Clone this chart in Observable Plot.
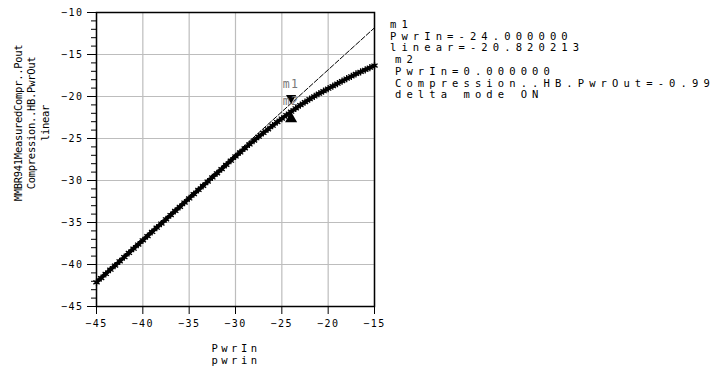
<!DOCTYPE html>
<html><head><meta charset="utf-8">
<script src="https://cdn.jsdelivr.net/npm/d3@7"></script>
<script src="https://cdn.jsdelivr.net/npm/@observablehq/plot@0.6"></script>
<style>
html,body{margin:0;padding:0;background:#fff;}
#chart{position:relative;width:716px;height:370px;overflow:hidden;}
svg{display:block;}
</style></head><body><div id="chart"></div>
<script>
// Swept input power (dBm)
const pwrIn = [-45, -44.5, -44, -43.5, -43, -42.5, -42, -41.5, -41, -40.5,
  -40, -39.5, -39, -38.5, -38, -37.5, -37, -36.5, -36, -35.5,
  -35, -34.5, -34, -33.5, -33, -32.5, -32, -31.5, -31, -30.5,
  -30, -29.5, -29, -28.5, -28, -27.5, -27, -26.5, -26, -25.5,
  -25, -24.5, -24, -23.5, -23, -22.5, -22, -21.5, -21, -20.5,
  -20, -19.5, -19, -18.5, -18, -17.5, -17, -16.5, -16, -15.5, -15];
// Compression..HB.PwrOut (measured output power, dBm)
const compression = [-42.12, -41.62, -41.12, -40.62, -40.12, -39.62, -39.12, -38.62, -38.12, -37.62,
  -37.12, -36.62, -36.12, -35.62, -35.12, -34.62, -34.12, -33.63, -33.13, -32.63,
  -32.13, -31.63, -31.13, -30.63, -30.13, -29.63, -29.14, -28.64, -28.14, -27.64,
  -27.14, -26.66, -26.17, -25.70, -25.24, -24.79, -24.34, -23.90, -23.47, -23.04,
  -22.62, -22.21, -21.81, -21.41, -21.02, -20.67, -20.32, -19.99, -19.67, -19.37,
  -19.07, -18.77, -18.47, -18.17, -17.87, -17.60, -17.32, -17.07, -16.82, -16.57, -16.32];
// Ideal linear extrapolation
const linearPwrIn = [-45, -15];
const linearOut = [-41.82, -11.82];
// Markers
const markerNames = ["m1", "m2"];
const markerPwrIn = [-24, -24];
const markerOut = [-20.820213, -21.81];
// Axis ticks
const xTicks = [-45, -40, -35, -30, -25, -20, -15];
const yTicks = [-45, -40, -35, -30, -25, -20, -15, -10];
const yMinorTicks = [-44,-43,-42,-41,-39,-38,-37,-36,-34,-33,-32,-31,-29,-28,-27,-26,-24,-23,-22,-21,-19,-18,-17,-16,-14,-13,-12,-11];
// Texts
const yTitleLines = ["MMBR941MeasuredCompr..Pout", "Compression..HB.PwrOut", "linear"];
const xTitleLines = ["PwrIn", "pwrin"];
const annotationM1 = ["m1", "PwrIn=-24.000000", "linear=-20.820213"];
const annotationM2 = ["m2", "PwrIn=0.000000", "Compression..HB.PwrOut=-0.99", "delta mode ON"];

const curve = pwrIn.map((x, i) => ({x, y: compression[i]}));
const linear = linearPwrIn.map((x, i) => ({x, y: linearOut[i]}));
const markers = markerNames.map((name, i) => ({name, x: markerPwrIn[i], y: markerOut[i]}));
const m1 = markers.filter(d => d.name === "m1");
const m2 = markers.filter(d => d.name === "m2");

const mono = "'DejaVu Sans Mono', 'Liberation Mono', monospace";

const plot = Plot.plot({
  width: 716, height: 370,
  marginLeft: 96, marginRight: 342, marginTop: 12, marginBottom: 64,
  style: {fontFamily: mono, fontSize: "10px", background: "#fff", color: "#000", overflow: "visible"},
  x: {domain: [-45, -15]},
  y: {domain: [-45, -10]},
  marks: [
    Plot.gridX(xTicks, {stroke: "#bdbdbd", strokeOpacity: 1, strokeWidth: 1.2}),
    Plot.gridY(yTicks, {stroke: "#bdbdbd", strokeOpacity: 1, strokeWidth: 1.2}),
    Plot.line(linear, {x: "x", y: "y", stroke: "#000", strokeWidth: 1, strokeDasharray: "5,2"}),
    Plot.line(curve, {x: "x", y: "y", stroke: "#000", strokeWidth: 3.8}),
    Plot.dot(curve, {x: "x", y: "y", symbol: "asterisk", r: 3.4, stroke: "#000", strokeWidth: 1.3}),
    Plot.dot(m1, {x: "x", y: "y", symbol: "triangle", rotate: 180, r: 3.8, fill: "#000", stroke: "none", dy: -5.5}),
    Plot.dot(m2, {x: "x", y: "y", symbol: "triangle", r: 4.5, fill: "#000", stroke: "none", dy: 7}),
    Plot.text(m1, {x: "x", y: "y", text: "name", fill: "#777", fontSize: 11.5, lineAnchor: "middle", dy: -19, fontFamily: mono}),
    Plot.text(m2, {x: "x", y: "y", text: "name", fill: "#777", fontSize: 11.5, lineAnchor: "middle", dy: -10, fontFamily: mono}),
    Plot.axisX({ticks: xTicks, tickSize: 8, tickPadding: 5, label: null}),
    Plot.axisY({ticks: yTicks, tickSize: 9, tickPadding: 4, label: null}),
    Plot.axisY({ticks: yMinorTicks, tickSize: 5, tickFormat: () => "", label: null}),
    Plot.frame({stroke: "#000", strokeWidth: 1.5})
  ]
});
document.getElementById("chart").appendChild(plot);

const svg = d3.select(plot);
svg.selectAll('g[aria-label="text"] text').style("letter-spacing", "1.5px");
svg.selectAll('g[aria-label="x-axis tick label"] text, g[aria-label="y-axis tick label"] text')
  .style("letter-spacing", "1.5px");

const ann = svg.append("g").attr("font-family", mono).attr("font-size", 10.5).attr("fill", "#000")
  .attr("text-anchor", "start").style("letter-spacing", "5.1px");
annotationM1.forEach((s, i) => ann.append("text").attr("x", 390).attr("y", 28 + 11.7 * i).text(s));
annotationM2.forEach((s, i) => ann.append("text").attr("x", 395).attr("y", 28 + 11.7 * (i + 3)).text(s));

const yt = svg.append("g").attr("font-family", mono).attr("font-size", 10.5).attr("fill", "#000")
  .attr("text-anchor", "middle");
[21.5, 35, 48.5].forEach((x, i) =>
  yt.append("text").attr("transform", `translate(${x},123) rotate(-90)`).style("letter-spacing", "-0.3px").text(yTitleLines[i]));

const xt = svg.append("g").attr("font-family", mono).attr("font-size", 10.5).attr("fill", "#000")
  .attr("text-anchor", "middle").style("letter-spacing", "3.5px");
xt.append("text").attr("x", 236).attr("y", 351.5).text(xTitleLines[0]);
xt.append("text").attr("x", 236).attr("y", 364).text(xTitleLines[1]);
</script></body></html>
